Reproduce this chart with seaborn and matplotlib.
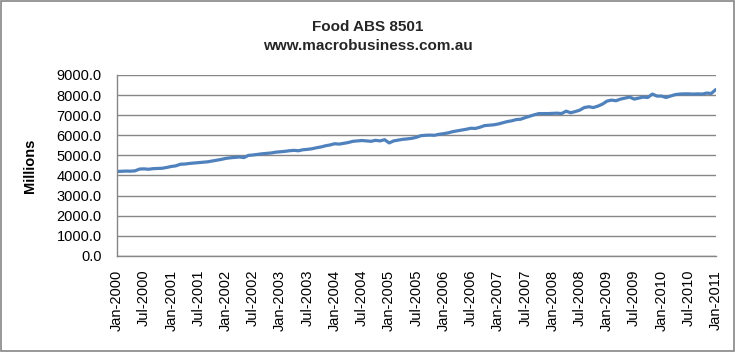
import matplotlib
matplotlib.use("Agg")
import matplotlib.pyplot as plt
import seaborn as sns
import pandas as pd
import numpy as np
from matplotlib.patches import Rectangle

sns.set_theme(style="white")
plt.rcParams['font.family'] = ['Liberation Sans', 'DejaVu Sans']

title = "Food ABS 8501"
subtitle = "www.macrobusiness.com.au"
y_label = "Millions"

values_2000 = [4200, 4210, 4220, 4215, 4230, 4320, 4330, 4310, 4340, 4350, 4360, 4400]
values_2001 = [4450, 4480, 4560, 4570, 4600, 4620, 4640, 4660, 4680, 4720, 4760, 4800]
values_2002 = [4850, 4880, 4900, 4920, 4890, 5000, 5020, 5050, 5080, 5100, 5120, 5160]
values_2003 = [5180, 5200, 5230, 5250, 5230, 5280, 5300, 5330, 5380, 5420, 5480, 5520]
values_2004 = [5580, 5560, 5600, 5640, 5700, 5720, 5740, 5720, 5700, 5750, 5720, 5780]
values_2005 = [5620, 5720, 5760, 5800, 5820, 5850, 5900, 5980, 6000, 6010, 6000, 6050]
values_2006 = [6080, 6120, 6180, 6220, 6260, 6300, 6350, 6340, 6400, 6480, 6500, 6520]
values_2007 = [6560, 6620, 6680, 6720, 6780, 6800, 6880, 6950, 7020, 7080, 7080, 7080]
values_2008 = [7090, 7100, 7080, 7200, 7120, 7180, 7250, 7380, 7420, 7380, 7450, 7550]
values_2009 = [7700, 7750, 7720, 7800, 7850, 7900, 7800, 7850, 7900, 7880, 8050, 7950]
values_2010 = [7950, 7880, 7950, 8020, 8050, 8060, 8060, 8050, 8060, 8050, 8100, 8080]
values_2011 = [8280]

values = (values_2000 + values_2001 + values_2002 + values_2003 + values_2004 +
          values_2005 + values_2006 + values_2007 + values_2008 + values_2009 +
          values_2010 + values_2011)

tick_labels = ["Jan-2000", "Jul-2000", "Jan-2001", "Jul-2001", "Jan-2002", "Jul-2002",
               "Jan-2003", "Jul-2003", "Jan-2004", "Jul-2004", "Jan-2005", "Jul-2005",
               "Jan-2006", "Jul-2006", "Jan-2007", "Jul-2007", "Jan-2008", "Jul-2008",
               "Jan-2009", "Jul-2009", "Jan-2010", "Jul-2010", "Jan-2011"]

df = pd.DataFrame({"month": np.arange(len(values)), "value": values})

fig = plt.figure(figsize=(7.35, 3.52), dpi=100)
ax = fig.add_axes([0.159, 0.273, 0.815, 0.514])

sns.lineplot(data=df, x="month", y="value", ax=ax, color="#4F81BD", linewidth=2.3)

ax.set_xlim(0, len(values) - 1)
ax.set_ylim(0, 9000)
ax.set_yticks(np.arange(0, 9001, 1000))
ax.set_yticklabels([f"{v:.1f}" for v in np.arange(0, 9001, 1000)], fontsize=10.5, color="#000000")
ax.set_xticks(np.arange(0, len(values), 6))
ax.set_xticklabels(tick_labels, rotation=90, fontsize=10.5, color="#000000")
ax.set_xlabel("")
ax.set_ylabel(y_label, fontsize=10.5, fontweight="bold", color="#000000")
ax.yaxis.set_label_coords(-0.133, 0.5)

ax.grid(axis="y", color="#868686", linewidth=1)
ax.grid(axis="x", visible=False)
for s in ["top", "right"]:
    ax.spines[s].set_visible(False)
for s in ["left", "bottom"]:
    ax.spines[s].set_color("#868686")
    ax.spines[s].set_linewidth(1)
ax.tick_params(axis="y", left=False, length=0, pad=11)
ax.tick_params(axis="x", bottom=False, length=0, pad=10)

fig.text(0.5, 0.923, title, ha="center", va="center", fontsize=11, fontweight="bold")
fig.text(0.5, 0.869, subtitle, ha="center", va="center", fontsize=11, fontweight="bold")

fig.patches.append(Rectangle((0.001, 0.002), 0.997, 0.995, transform=fig.transFigure,
                             fill=False, edgecolor="#868686", linewidth=1.2))

fig.savefig("out.png", dpi=100)
